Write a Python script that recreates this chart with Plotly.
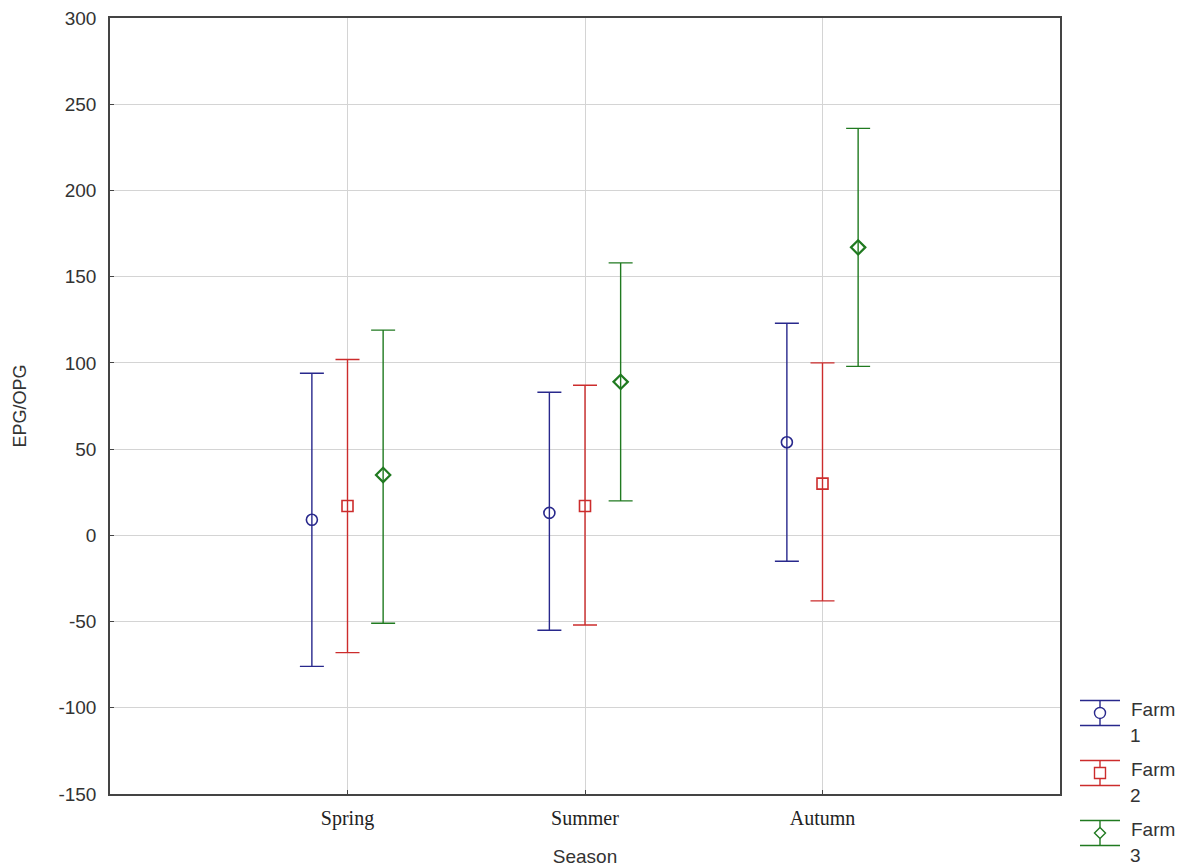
import plotly.graph_objects as go

seasons = ["Spring", "Summer", "Autumn"]
farms = ["Farm 1", "Farm 2", "Farm 3"]
means = {
    "Farm 1": [9, 13, 54],
    "Farm 2": [17, 17, 30],
    "Farm 3": [35, 89, 167],
}
upper = {
    "Farm 1": [94, 83, 123],
    "Farm 2": [102, 87, 100],
    "Farm 3": [119, 158, 236],
}
lower = {
    "Farm 1": [-76, -55, -15],
    "Farm 2": [-68, -52, -38],
    "Farm 3": [-51, 20, 98],
}
y_ticks = [-150, -100, -50, 0, 50, 100, 150, 200, 250, 300]
y_ticklabels = ["-150", "-100", "-50", "0", "50", "100", "150", "200", "250", "300"]

colors = {"Farm 1": "#28288c", "Farm 2": "#cc2c2c", "Farm 3": "#207a20"}
symbols = {"Farm 1": "circle-open", "Farm 2": "square-open", "Farm 3": "diamond-open"}
offsets = {"Farm 1": -0.15, "Farm 2": 0.0, "Farm 3": 0.15}

fig = go.Figure()
for f in farms:
    xs = [i + offsets[f] for i in range(len(seasons))]
    m = means[f]
    up = [u - v for u, v in zip(upper[f], m)]
    dn = [v - l for l, v in zip(lower[f], m)]
    fig.add_trace(go.Scatter(
        x=xs, y=m, mode="markers", name=f, showlegend=False,
        marker=dict(symbol=symbols[f], size=11, color=colors[f],
                    line=dict(width=1.6 if f != "Farm 3" else 2.2, color=colors[f])),
        error_y=dict(type="data", symmetric=False, array=up, arrayminus=dn,
                     color=colors[f], thickness=1.4, width=12),
    ))

# custom legend (paper coords, pixel-sized symbols)
leg_y = {"Farm 1": 0.1044, "Farm 2": 0.0271, "Farm 3": -0.0503}
lx = 1.0421
shapes = []
annotations = []
for f in farms:
    c = colors[f]
    y = leg_y[f]
    common = dict(xref="paper", yref="paper", xsizemode="pixel", ysizemode="pixel",
                  xanchor=lx, yanchor=y, line=dict(color=c, width=1.4))
    shapes.append(dict(type="line", x0=-20, x1=20, y0=12.5, y1=12.5, **common))
    shapes.append(dict(type="line", x0=-20, x1=20, y0=-12.5, y1=-12.5, **common))
    shapes.append(dict(type="line", x0=0, x1=0, y0=-12.5, y1=-5.5, **common))
    shapes.append(dict(type="line", x0=0, x1=0, y0=5.5, y1=12.5, **common))
    if f == "Farm 1":
        shapes.append(dict(type="circle", x0=-5.5, x1=5.5, y0=-5.5, y1=5.5, **common))
    elif f == "Farm 2":
        shapes.append(dict(type="rect", x0=-5.5, x1=5.5, y0=-5.5, y1=5.5, **common))
    else:
        shapes.append(dict(type="path", path="M -5.5 0 L 0 5.5 L 5.5 0 L 0 -5.5 Z", **common))
    word, num = f.split(" ")
    annotations.append(dict(xref="paper", yref="paper", x=1.0726, y=y + 0.004, text=word,
                            showarrow=False, xanchor="left", yanchor="middle",
                            font=dict(family="Liberation Sans", size=19, color="#333")))
    annotations.append(dict(xref="paper", yref="paper", x=1.0726, y=y - 0.029, text=num,
                            showarrow=False, xanchor="left", yanchor="middle",
                            borderpad=0,
                            font=dict(family="Liberation Sans", size=19, color="#333")))

fig.update_layout(
    width=1189, height=868,
    margin=dict(l=110, r=129, t=18, b=74),
    paper_bgcolor="white", plot_bgcolor="white",
    shapes=shapes, annotations=annotations,
    xaxis=dict(range=[-1, 3], tickvals=list(range(len(seasons))), ticktext=seasons,
               automargin=False,
               showgrid=True, gridcolor="#d4d4d4", gridwidth=1,
               showline=True, linecolor="#444", linewidth=1.5, mirror=True,
               ticks="inside", ticklen=4, tickcolor="#444", zeroline=False,
               ticklabelstandoff=5,
               tickfont=dict(family="Liberation Serif", size=20, color="#222"),
               title=dict(text="Season", standoff=21,
                          font=dict(family="Liberation Sans", size=19, color="#333"))),
    yaxis=dict(range=[-150, 300], tickvals=y_ticks, ticktext=y_ticklabels,
               automargin=False,
               showgrid=True, gridcolor="#d4d4d4", gridwidth=1,
               showline=True, linecolor="#444", linewidth=1.5, mirror=True,
               ticks="inside", ticklen=4, tickcolor="#444", zeroline=False,
               ticklabelstandoff=8,
               tickfont=dict(family="Liberation Sans", size=19, color="#333"),
               title=dict(text="EPG/OPG", standoff=27,
                          font=dict(family="Liberation Sans", size=18, color="#333"))),
)

fig.write_html("out.html")
